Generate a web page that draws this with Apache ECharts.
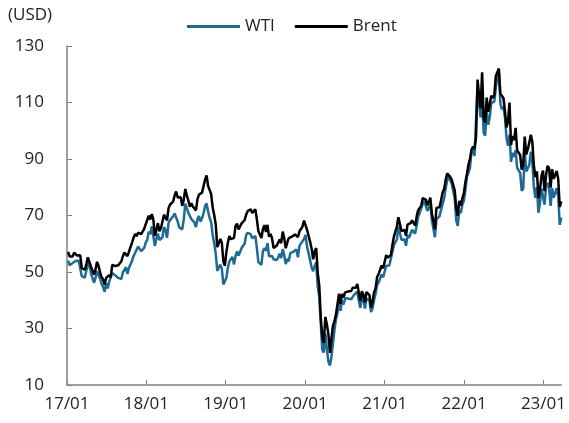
<!DOCTYPE html>
<html>
<head>
<meta charset="utf-8">
<script src="https://cdn.jsdelivr.net/npm/echarts@6/dist/echarts.min.js"></script>
<style>
  html, body { margin: 0; padding: 0; background: #ffffff; }
  #chart { width: 569px; height: 423px; }
</style>
</head>
<body>
<div id="chart"></div>
<script>
// Weekly closing prices (USD/bbl), one value per Friday starting 2017-01-06.
const firstWeek = [2017, 0, 6];

const brent2017 = [57.1, 55.5, 55.5, 55.5, 56.8, 56.7, 55.8, 56.0, 55.9, 51.4, 51.8, 50.8, 52.8,
  55.2, 55.9, 52.0, 51.5, 49.1, 50.8, 53.6, 52.2, 49.9, 48.2, 47.4, 45.5, 47.9,
  48.1, 48.9, 48.1, 52.5, 52.0, 52.1, 52.7, 52.4, 52.8, 53.8, 55.6, 56.9, 57.5,
  55.6, 57.2, 57.8, 60.4, 62.1, 63.5, 62.7, 63.9, 63.7, 63.4, 63.2, 65.3, 66.9];
const wti2017 = [54.0, 52.4, 52.4, 53.2, 53.8, 53.9, 53.4, 54.0, 53.3, 48.5, 48.8, 48.0, 50.6,
  52.2, 53.2, 49.6, 49.3, 46.2, 47.8, 50.3, 49.8, 47.7, 45.8, 44.7, 43.0, 46.0,
  44.2, 46.5, 45.8, 49.7, 49.6, 48.8, 48.5, 47.9, 47.3, 47.5, 49.9, 50.7, 51.7,
  49.3, 51.5, 51.8, 53.9, 55.6, 56.7, 56.6, 59.0, 58.4, 57.4, 57.3, 58.5, 60.4];

const brent2018 = [67.6, 69.9, 68.6, 70.5, 68.6, 62.8, 64.8, 67.3, 64.4, 65.5, 66.2, 70.3, 70.3,
  68.3, 72.6, 73.9, 74.6, 74.9, 77.1, 78.5, 76.4, 76.8, 76.5, 73.4, 75.6, 79.4,
  77.1, 75.3, 73.1, 74.3, 73.2, 72.8, 71.8, 75.8, 77.4, 76.8, 78.1, 78.8, 82.7,
  84.2, 80.4, 79.8, 77.6, 72.8, 70.2, 66.8, 58.8, 58.7, 61.7, 60.3, 53.8, 52.2];
const wti2018 = [61.4, 64.3, 63.4, 66.1, 65.5, 59.2, 61.7, 63.6, 61.3, 62.0, 62.3, 65.9, 64.9,
  62.1, 67.4, 68.4, 68.1, 69.7, 70.7, 71.3, 67.9, 65.8, 65.7, 65.1, 68.6, 74.2,
  73.8, 71.0, 70.5, 68.7, 68.5, 67.6, 65.9, 68.7, 69.8, 67.8, 69.0, 70.8, 73.3,
  74.3, 71.3, 69.1, 67.6, 63.1, 60.2, 56.5, 50.4, 50.9, 52.6, 51.2, 45.6, 45.3];

const brent2019 = [57.1, 60.5, 62.7, 61.6, 61.9, 62.1, 66.3, 67.1, 65.1, 65.7, 67.2, 67.0, 68.4,
  70.3, 71.6, 71.9, 72.2, 70.9, 70.6, 72.2, 68.7, 64.5, 63.3, 62.0, 65.2, 66.6,
  64.2, 66.7, 62.5, 63.5, 61.9, 58.5, 58.6, 59.3, 60.4, 61.5, 60.2, 64.3, 62.0,
  58.4, 60.5, 62.0, 61.7, 62.5, 62.5, 63.3, 63.4, 62.4, 64.4, 65.2, 66.1, 68.2];
const wti2019 = [48.0, 51.6, 53.8, 53.7, 55.3, 52.7, 55.6, 57.3, 55.8, 56.1, 58.5, 59.0, 60.1,
  63.1, 63.9, 64.0, 63.3, 61.9, 61.7, 62.8, 58.6, 53.5, 54.0, 52.5, 57.4, 58.5,
  57.5, 60.2, 55.6, 56.2, 55.7, 54.5, 54.9, 54.2, 55.1, 56.5, 54.9, 58.1, 55.9,
  52.8, 54.7, 53.8, 56.7, 56.2, 57.2, 57.7, 58.0, 55.2, 59.2, 60.1, 60.4, 61.7];

const brent2020 = [68.6, 64.9, 65.0, 60.7, 58.2, 54.5, 57.3, 58.5, 49.7, 45.3, 33.9, 27.0, 24.9,
  34.1, 31.5, 28.1, 21.4, 26.4, 31.0, 32.5, 35.1, 35.3, 42.3, 38.7, 42.2, 41.0,
  42.8, 43.2, 43.1, 43.3, 43.3, 44.4, 45.0, 44.4, 45.8, 42.7, 39.8, 43.2, 41.9,
  39.3, 42.9, 42.9, 41.8, 37.5, 39.5, 42.8, 44.2, 48.2, 49.3, 50.0, 52.3, 51.3];
const wti2020 = [63.1, 59.0, 58.5, 54.2, 51.6, 50.3, 52.1, 53.4, 44.8, 41.3, 31.7, 22.4, 21.5,
  28.3, 22.8, 18.3, 16.9, 19.8, 24.7, 29.4, 33.3, 35.5, 39.6, 36.3, 39.8, 38.5,
  40.7, 40.6, 40.6, 41.3, 40.3, 41.2, 42.0, 42.3, 43.0, 39.8, 37.3, 41.1, 40.3,
  37.1, 40.6, 40.9, 39.9, 35.8, 37.1, 40.1, 42.2, 45.5, 46.3, 46.6, 49.1, 48.2];

const brent2021 = [51.8, 56.0, 55.1, 55.4, 55.9, 59.3, 62.4, 62.9, 66.1, 69.4, 69.2, 64.5, 64.6,
  64.9, 62.9, 66.8, 66.1, 67.3, 68.3, 68.7, 66.4, 69.6, 71.9, 72.7, 73.5, 76.2,
  76.2, 75.6, 73.6, 74.1, 76.3, 70.7, 70.6, 65.2, 72.7, 72.6, 72.9, 75.3, 78.1,
  79.3, 82.4, 84.9, 85.5, 83.7, 82.7, 82.2, 78.9, 72.7, 69.9, 75.2, 73.5, 76.1, 77.8];
const wti2021 = [48.5, 52.2, 52.4, 52.3, 52.2, 56.9, 59.5, 59.2, 61.5, 66.1, 65.6, 61.4, 61.0,
  61.5, 59.3, 63.1, 62.1, 63.6, 64.9, 65.4, 63.6, 66.3, 69.6, 70.9, 71.6, 74.1,
  75.2, 74.6, 71.6, 72.1, 74.0, 68.3, 68.4, 62.3, 68.7, 69.3, 69.7, 72.0, 74.0,
  75.9, 79.4, 82.3, 83.8, 83.6, 81.3, 80.8, 76.1, 68.2, 66.3, 71.7, 70.9, 73.8, 75.2];

const brent2022 = [81.8, 84.7, 87.9, 90.0, 93.3, 94.4, 93.5, 97.9, 118.1, 112.7, 107.9, 120.7,
  104.4, 102.8, 111.7, 106.7, 109.3, 112.4, 111.6, 112.6, 119.4, 119.7, 122.0, 113.1, 113.1,
  111.6, 107.0, 101.2, 103.2, 110.0, 94.9, 98.2, 96.7, 101.0, 93.0, 92.8, 91.4, 86.2, 88.0,
  97.9, 91.6, 93.5, 95.8, 98.6, 96.0, 87.6, 83.6, 85.6, 76.1, 79.0, 84.0, 85.9];
const wti2022 = [78.9, 83.8, 85.1, 86.8, 92.3, 93.1, 91.1, 91.6, 115.7, 109.3, 104.7, 113.9,
  99.3, 98.3, 107.0, 102.1, 104.7, 109.8, 110.5, 110.3, 115.1, 118.9, 120.7, 109.6, 107.6,
  108.4, 104.8, 97.6, 94.7, 98.6, 89.0, 92.1, 90.8, 93.1, 86.9, 86.8, 85.1, 78.7, 79.5,
  92.6, 85.6, 85.1, 87.9, 92.6, 89.0, 80.1, 76.3, 80.0, 71.0, 74.3, 79.6, 80.3];

const brent2023 = [78.6, 84.3, 87.6, 86.7, 79.9, 86.4, 83.0, 83.2, 85.8, 82.8, 73.0, 75.0];
const wti2023 = [73.8, 79.9, 81.6, 79.7, 73.4, 79.7, 76.3, 76.3, 79.7, 76.7, 66.7, 69.3];

const brentValues = [].concat(brent2017, brent2018, brent2019, brent2020, brent2021, brent2022, brent2023);
const wtiValues = [].concat(wti2017, wti2018, wti2019, wti2020, wti2021, wti2022, wti2023);

const seriesNames = ['WTI', 'Brent'];
const tickYears = [2017, 2018, 2019, 2020, 2021, 2022, 2023];

// Friday dates for each weekly observation (ms timestamps)
const weekDates = brentValues.map((_, i) =>
  new Date(firstWeek[0], firstWeek[1], firstWeek[2] + 7 * i).getTime());

const yearStarts = tickYears.map(y => new Date(y, 0, 1).getTime());
const xMin = yearStarts[0];
const xMax = weekDates[weekDates.length - 1];

const FONT = '"Open Sans", "Noto Sans", sans-serif';
const TEXT = '#222222';
const AXIS = '#808080';
const WTI_COLOR = '#1d6a94';
const BRENT_COLOR = '#000000';

function dateLabel(v) {
  const d = new Date(v);
  const yy = String(d.getFullYear()).slice(2);
  const mm = String(d.getMonth() + 1).padStart(2, '0');
  return yy + '/' + mm;
}

const chart = echarts.init(document.getElementById('chart'), null, { renderer: 'canvas' });

chart.setOption({
  animation: false,
  backgroundColor: '#ffffff',
  textStyle: { fontFamily: FONT },
  grid: { left: 67, right: 6, top: 46, bottom: 38, containLabel: false },
  graphic: [{
    type: 'text',
    left: 8,
    top: 7,
    style: { text: '(USD)', font: '17px ' + FONT, fill: TEXT }
  }],
  legend: {
    data: seriesNames.map(n => ({ name: n, icon: 'rect' })),
    left: 187,
    top: 18,
    padding: 0,
    itemWidth: 53,
    itemHeight: 3,
    itemGap: 20,
    textStyle: { fontFamily: FONT, fontSize: 17, color: TEXT, padding: [0, 0, 0, 0] }
  },
  xAxis: {
    type: 'value',
    min: xMin,
    max: xMax,
    splitLine: { show: false },
    axisLine: { lineStyle: { color: AXIS, width: 1.5 } },
    axisTick: {
      show: true, inside: true, length: 5,
      customValues: yearStarts,
      lineStyle: { color: AXIS, width: 1 }
    },
    axisLabel: {
      customValues: yearStarts,
      margin: 11,
      fontFamily: FONT,
      fontSize: 17,
      color: TEXT,
      formatter: dateLabel
    }
  },
  yAxis: {
    type: 'value',
    min: 10,
    max: 130,
    interval: 20,
    splitLine: { show: false },
    axisLine: { show: true, lineStyle: { color: AXIS, width: 1.5 } },
    axisTick: { show: true, inside: true, length: 5, lineStyle: { color: AXIS, width: 1 } },
    axisLabel: { margin: 23, fontFamily: FONT, fontSize: 17, color: TEXT }
  },
  series: [
    {
      name: 'WTI',
      type: 'line',
      symbol: 'none',
      data: weekDates.map((t, i) => [t, wtiValues[i]]),
      lineStyle: { color: WTI_COLOR, width: 2.5 },
      itemStyle: { color: WTI_COLOR },
      z: 2
    },
    {
      name: 'Brent',
      type: 'line',
      symbol: 'none',
      data: weekDates.map((t, i) => [t, brentValues[i]]),
      lineStyle: { color: BRENT_COLOR, width: 2.5 },
      itemStyle: { color: BRENT_COLOR },
      z: 3
    }
  ]
});
</script>
</body>
</html>
